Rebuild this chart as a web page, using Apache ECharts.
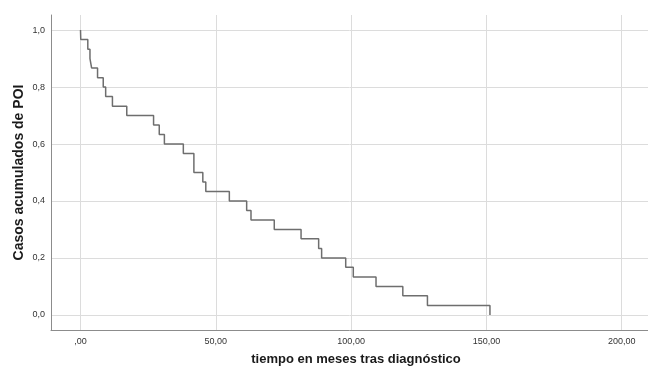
<!DOCTYPE html>
<html>
<head>
<meta charset="utf-8">
<script src="https://cdn.jsdelivr.net/npm/echarts@6/dist/echarts.min.js"></script>
<style>
  html, body { margin: 0; padding: 0; background: #fff; }
  #chart { width: 648px; height: 367px; }
</style>
</head>
<body>
<div id="chart"></div>
<script>
  // tiempos de evento (meses) y proporción restante
  var eventTimes = [0, 0.1, 2.7, 3.5, 4.1, 6.3, 8.4, 9.3, 11.8, 17.1, 27.0, 29.1, 31.0, 38.0, 41.9, 45.2, 46.3,
                    55.0, 61.4, 63.0, 71.6, 81.5, 88.0, 89.1, 98.0, 100.8, 109.2, 119.1, 128.2, 151.3];
  var survival = [1.000, 0.967, 0.933, 0.900, 0.867, 0.833, 0.800, 0.767, 0.733, 0.700, 0.667, 0.633, 0.600, 0.567, 0.500, 0.467, 0.433,
                  0.400, 0.367, 0.333, 0.300, 0.267, 0.233, 0.200, 0.167, 0.133, 0.100, 0.067, 0.033, 0.000];
  var xTicks = [0, 50, 100, 150, 200];
  var yTicks = [0, 0.2, 0.4, 0.6, 0.8, 1.0];

  var chartDom = document.getElementById('chart');
  var myChart = echarts.init(chartDom);

  var points = [];
  for (var i = 0; i < eventTimes.length; i++) {
    points.push([eventTimes[i], survival[i]]);
  }

  var fontFam = '"Liberation Sans", Arial, sans-serif';

  var option = {
    animation: false,
    grid: { left: 51, right: 0, top: 15, bottom: 37, outerBoundsMode: 'none' },
    xAxis: {
      type: 'value',
      min: -10.9,
      max: 209.7,
      name: 'tiempo en meses tras diagnóstico',
      nameLocation: 'middle',
      nameGap: 23,
      nameMoveOverlap: false,
      nameTextStyle: { fontFamily: fontFam, fontSize: 13, fontWeight: 'bold', color: '#1a1a1a', padding: [0, 0, 0, 13] },
      axisLine: { show: true, onZero: false, lineStyle: { color: '#8c8c8c', width: 1 } },
      axisTick: { show: false, customValues: xTicks },
      axisLabel: {
        customValues: xTicks,
        margin: 7,
        fontFamily: fontFam,
        fontSize: 9,
        color: '#333',
        formatter: function (v) {
          return v === 0 ? ',00' : v.toFixed(2).replace('.', ',');
        }
      },
      splitLine: { show: true, lineStyle: { color: '#dcdcdc', width: 1 } }
    },
    yAxis: {
      type: 'value',
      min: -0.053,
      max: 1.053,
      name: 'Casos acumulados de POI',
      nameLocation: 'middle',
      nameGap: 25,
      nameMoveOverlap: false,
      nameTextStyle: { fontFamily: fontFam, fontSize: 14, fontWeight: 'bold', color: '#1a1a1a' },
      axisLine: { show: true, onZero: false, lineStyle: { color: '#8c8c8c', width: 1 } },
      axisTick: { show: false, customValues: yTicks },
      axisLabel: {
        customValues: yTicks,
        margin: 6,
        fontFamily: fontFam,
        fontSize: 9,
        color: '#333',
        formatter: function (v) {
          return v.toFixed(1).replace('.', ',');
        }
      },
      splitLine: { show: true, lineStyle: { color: '#dcdcdc', width: 1 } }
    },
    series: [
      {
        type: 'line',
        step: 'end',
        data: points,
        showSymbol: false,
        lineStyle: { color: '#6e6e6e', width: 1.5 }
      }
    ]
  };

  myChart.setOption(option);
</script>
</body>
</html>
